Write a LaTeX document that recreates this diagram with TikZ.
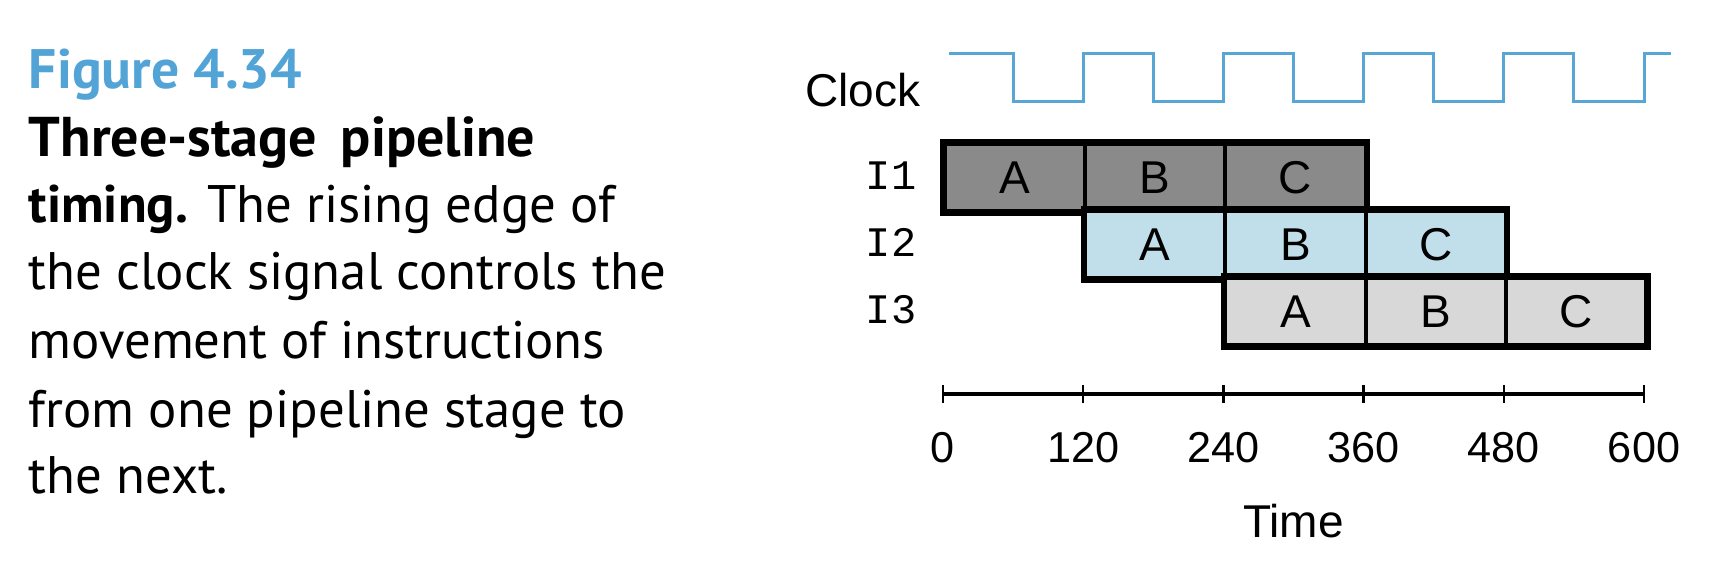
\documentclass[tikz,border=0pt]{standalone}
\usepackage{fontspec}
\setmainfont{Liberation Sans}
\setmonofont{Liberation Mono}
\newfontfamily\capfont{PT Sans}
\usetikzlibrary{positioning}

\definecolor{figblue}{RGB}{82,163,214}
\definecolor{clkblue}{RGB}{88,166,214}
\definecolor{stageA}{RGB}{138,138,138}
\definecolor{stageB}{RGB}{193,223,234}
\definecolor{stageC}{RGB}{216,216,216}

\begin{document}
\begin{tikzpicture}[x=.25pt, y=-.25pt, line join=miter, font=\fontsize{11.5}{13}\selectfont,
	cell/.style={draw, line width=1pt, anchor=north west, minimum width=35.05pt, minimum height=16.75pt, inner sep=0pt},
	clk/.style={line width=.75pt, clkblue},
	lbl/.style={inner sep=0pt},
	captxt/.style={anchor=base west, inner sep=0pt, font=\capfont\fontsize{13.2}{16}\selectfont}]
	\def\w{140.2} \def\h{67}
	\def\xo{943} \def\yo{142}
	\useasboundingbox (0,0) rectangle (1724,588);
	% caption
	\node[captxt, text=figblue, font=\capfont\bfseries\fontsize{13.9}{16}\selectfont] (fig) at (28,89) {Figure 4.34};
	\node[captxt, font=\capfont\bfseries\fontsize{14}{16}\selectfont] (cap1) at (28,157) {Three-stage\hspace{6pt}pipeline};
	\node[captxt] (cap2) at (28,223) {\textbf{timing.} The rising edge of};
	\node[captxt] (cap3) at (28,290) {the clock signal controls the};
	\node[captxt] (cap4) at (28,358) {movement of instructions};
	\node[captxt] (cap5) at (28,427) {from one pipeline stage to};
	\node[captxt] (cap6) at (28,493) {the next.};
	% clock
	\node[lbl, anchor=base east] (clock) at (921,107) {Clock};
	\draw[clk] (949,54) foreach \k in {0,...,4}{ -- ({\xo+\w*\k+\w/2},54) -- ++(0,48) -- ++({\w/2},0) -- ++(0,-48)} -- (1671,54);
	% stages
	\foreach \r/\fc/\ins in {0/stageA/I1,1/stageB/I2,2/stageC/I3}{
		\node[lbl, anchor=east, font=\ttfamily\fontsize{10.5}{12}\selectfont] (ins\r) at (917,{\yo+\h*\r+\h/2}) {\ins};
		\foreach \s/\t in {0/A,1/B,2/C}
			\node[cell, fill=\fc] (c\r\s) at ({\xo+\w*(\r+\s)},{\yo+\h*\r}) {\t};
		\draw[line width=1.3pt] (c\r0.north west) rectangle (c\r2.south east);
	}
	% time axis
	\draw[line width=.8pt] (\xo,394) -- ({\xo+5*\w},394);
	\foreach \k/\t in {0/0,1/120,2/240,3/360,4/480,5/600}{
		\draw[line width=.6pt] ({\xo+\w*\k},385) -- ++(0,18);
		\node[lbl, anchor=base, font=\fontsize{10.8}{13}\selectfont] (t\k) at ({\xo+\w*\k},462) {\t};
	}
	\node[lbl, anchor=base] (time) at ({\xo+2.5*\w},537) {Time};
\end{tikzpicture}
\end{document}
